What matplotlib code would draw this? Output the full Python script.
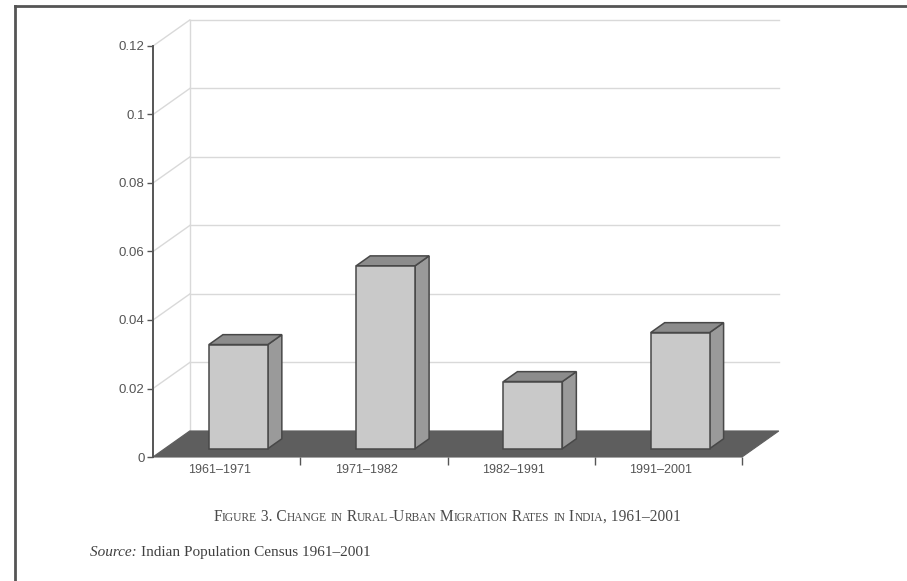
import matplotlib
matplotlib.use("Agg")
import matplotlib.pyplot as plt
from matplotlib.patches import Polygon
from matplotlib.lines import Line2D

# ---- data -------------------------------------------------------------
periods = ["1961–1971", "1971–1982", "1982–1991", "1991–2001"]
rates = [0.0304, 0.0534, 0.0196, 0.0339]
y_ticks = [0, 0.02, 0.04, 0.06, 0.08, 0.1, 0.12]
y_tick_labels = ["0", "0.02", "0.04", "0.06", "0.08", "0.1", "0.12"]
caption = "Figure 3. Change in Rural-Urban Migration Rates in India, 1961–2001"
source_label = "Source:"
source_text = "Indian Population Census 1961–2001"

# ---- figure / axes ----------------------------------------------------
W, H = 907, 581
fig = plt.figure(figsize=(W / 100, H / 100), dpi=100)
fig.patch.set_facecolor("white")
ax = fig.add_axes([153 / W, 1 - 457 / H, (742 - 153) / W, (457 - 46) / H])
ax.set_xlim(0, len(periods))
ax.set_ylim(0, 0.12)
ax.patch.set_visible(False)

# oblique depth of the 3-D box, in data units
DX, DY = 0.25, 0.0076
# bar placement inside the depth (fraction of full depth) and half width
F_FRONT, F_BACK = 0.32, 0.70
HALF_W = 0.20

GRID = "#d9d9d9"
FLOOR = "#5e5e5e"
FACE = "#c9c9c9"
TOP = "#8c8c8c"
SIDE = "#9a9a9a"
EDGE = "#484848"
AXIS = "#555555"
TEXT = "#555555"

n = len(periods)

# side wall and back wall grid lines
for t in y_ticks:
    ax.add_line(Line2D([0, DX], [t, t + DY], color=GRID, lw=1, clip_on=False, zorder=1))
    if t > 0:
        ax.add_line(Line2D([DX, n + DX], [t + DY, t + DY], color=GRID, lw=1,
                           clip_on=False, zorder=1))
ax.add_line(Line2D([DX, DX], [DY, y_ticks[-1] + DY], color=GRID, lw=1,
                   clip_on=False, zorder=1))

# floor
ax.add_patch(Polygon([(0, 0), (n, 0), (n + DX, DY), (DX, DY)], closed=True,
                     facecolor=FLOOR, edgecolor=FLOOR, lw=0.8, clip_on=False, zorder=2))

# 3-D columns
dxd = (F_BACK - F_FRONT) * DX
dyd = (F_BACK - F_FRONT) * DY
for i, v in enumerate(rates):
    cx = i + 0.5
    x0 = cx - HALF_W + F_FRONT * DX
    x1 = cx + HALF_W + F_FRONT * DX
    y0 = F_FRONT * DY
    y1 = v + F_FRONT * DY
    side = [(x1, y0), (x1 + dxd, y0 + dyd), (x1 + dxd, y1 + dyd), (x1, y1)]
    top = [(x0, y1), (x1, y1), (x1 + dxd, y1 + dyd), (x0 + dxd, y1 + dyd)]
    front = [(x0, y0), (x1, y0), (x1, y1), (x0, y1)]
    for pts, fc in ((side, SIDE), (top, TOP), (front, FACE)):
        ax.add_patch(Polygon(pts, closed=True, facecolor=fc, edgecolor=EDGE,
                             lw=1.1, joinstyle="miter", clip_on=False, zorder=3))

# axes: value axis on the left, category ticks on the floor edge
for s in ("top", "right", "bottom"):
    ax.spines[s].set_visible(False)
ax.spines["left"].set_color(AXIS)
ax.spines["left"].set_linewidth(1.4)
ax.set_yticks(y_ticks)
ax.set_yticklabels(y_tick_labels, fontfamily="Liberation Sans", fontsize=9.5, color=TEXT)
ax.tick_params(axis="y", direction="out", length=4, width=1, color=AXIS, pad=2)

ax.set_xticks(range(1, n + 1))
ax.set_xticklabels([])
ax.set_xticks([i + 0.45 for i in range(n)], minor=True)
ax.set_xticklabels(periods, minor=True, fontfamily="Liberation Sans", fontsize=9,
                   color=TEXT)
ax.tick_params(axis="x", which="major", direction="out", length=6, width=1, color=AXIS)
ax.tick_params(axis="x", which="minor", length=0, pad=5)

# ---- frame ------------------------------------------------------------
fig.add_artist(Line2D([15 / W, 1], [1 - 6 / H, 1 - 6 / H], transform=fig.transFigure,
                      color="#555555", lw=2))
fig.add_artist(Line2D([15 / W, 15 / W], [0, 1 - 6 / H], transform=fig.transFigure,
                      color="#555555", lw=2))

# ---- caption (small capitals) and source line --------------------------
renderer = fig.canvas.get_renderer()


def text_width(s, kw):
    a = fig.text(0, 0, "|" + s + "|", **kw)
    b = fig.text(0, 0, "||", **kw)
    w = a.get_window_extent(renderer).width - b.get_window_extent(renderer).width
    a.remove()
    b.remove()
    return w


def place_runs(runs, x_px, y_px, center=False):
    widths = [text_width(s, kw) for s, kw in runs]
    total = sum(widths)
    x = x_px - total / 2 if center else x_px
    for (s, kw), w in zip(runs, widths):
        fig.text(x / W, 1 - y_px / H, s, ha="left", va="baseline", **kw)
        x += w


def small_caps_runs(s, big, small, kw):
    runs = []
    for ch in s:
        if ch.islower():
            item = (ch.upper(), small)
        else:
            item = (ch, big)
        if runs and runs[-1][1] == item[1]:
            runs[-1] = (runs[-1][0] + item[0], item[1])
        else:
            runs.append(item)
    return [(t, dict(kw, fontsize=sz)) for t, sz in runs]


serif = dict(fontfamily="Liberation Serif", color="#4a4a4a")
place_runs(small_caps_runs(caption, 11.2, 8.3, serif), 447, 521, center=True)

place_runs([(source_label + " ", dict(serif, fontsize=11, fontstyle="italic", color="#404040")),
            (source_text, dict(serif, fontsize=11, color="#404040"))], 90, 556)

fig.savefig("out.png", dpi=100, facecolor="white")
